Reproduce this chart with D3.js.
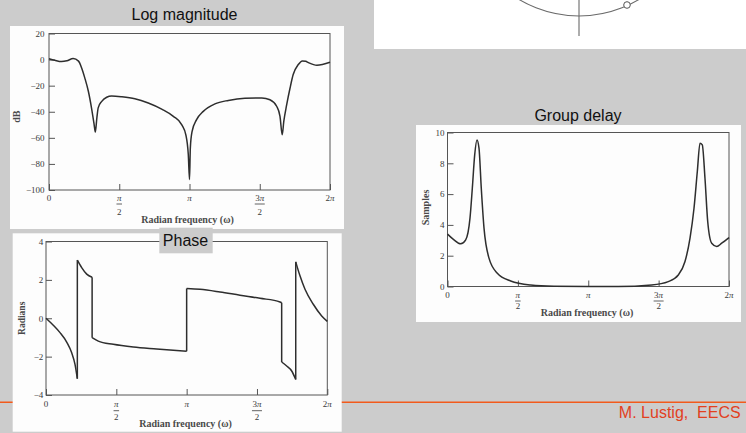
<!DOCTYPE html>
<html>
<head>
<meta charset="utf-8">
<script src="https://cdn.jsdelivr.net/npm/d3@7"></script>
<style>
  body { margin: 0; background: #cccccc; }
  svg { display: block; }
</style>
</head>
<body>
<svg id="slide" width="746" height="433"></svg>
<script>
var PI = Math.PI;

/* values */
var magW  = [0, 0.13, 0.28, 0.40, 0.54, 0.66, 0.73, 0.80, 0.88, 0.95, 1.01, 1.035, 1.07, 1.10, 1.18, 1.29, 1.40, 1.63, 1.92, 2.22, 2.52, 2.78, 2.97, 3.06, 3.115, 3.1416,
             3.16, 3.20, 3.30, 3.45, 3.71, 4.01, 4.38, 4.76, 4.94, 5.09, 5.165, 5.215, 5.25, 5.315, 5.39, 5.46, 5.575, 5.665, 5.74, 5.80, 5.99, 6.2832];
var magDb = [0.7, -0.5, -1.5, -0.9, 0.8, -1.2, -6.4, -14, -24.3, -37, -50, -55.6, -44.8, -37, -32, -28.9, -27.9, -28.5, -30, -33.3, -38, -43.5, -50, -57.7, -73, -92,
             -67.9, -55, -46, -39.7, -34, -31.3, -29.7, -29.5, -30.8, -35.8, -43.5, -57.7, -47.4, -34.6, -21.8, -11.5, -3.8, -1.0, -1.3, -2.3, -4.3, -2.0];

var phaseW   = [0, 0.163, 0.313, 0.462, 0.574, 0.648, 0.70, 0.70, 0.797, 0.909, 1.03, 1.03, 1.168, 1.503, 1.95, 2.472, 3.1416, 3.1416,
                3.44, 3.886, 4.333, 4.78, 5.226, 5.264, 5.264, 5.376, 5.488, 5.578, 5.578, 5.673, 5.785, 5.97, 6.158, 6.2832];
var phaseRad = [0, -0.365, -0.75, -1.24, -1.80, -2.40, -3.15, 3.03, 2.64, 2.30, 2.14, -1.01, -1.19, -1.36, -1.50, -1.60, -1.72, 1.55,
                1.51, 1.37, 1.20, 1.04, 0.85, 0.81, -2.28, -2.49, -2.75, -3.19, 2.94, 2.21, 1.51, 0.73, 0.12, -0.16];

var delayW = [0, 0.145, 0.294, 0.406, 0.502, 0.554, 0.607, 0.658, 0.703, 0.754, 0.815, 0.926, 1.112, 1.41, 1.857, 2.377, 3.12, 3.81,
              4.557, 4.928, 5.151, 5.301, 5.413, 5.502, 5.576, 5.636, 5.687, 5.747, 5.808, 5.897, 6.009, 6.12, 6.2832];
var delaySamples = [3.40, 3.03, 2.77, 3.03, 4.44, 6.38, 8.55, 9.52, 8.98, 6.38, 3.79, 1.84, 0.86, 0.36, 0.10, 0.02, 0.0, 0.0,
                    0.10, 0.32, 0.75, 1.62, 3.14, 5.08, 7.47, 9.31, 9.20, 7.03, 4.22, 2.81, 2.60, 2.81, 3.18];

var xTicks = [0, PI / 2, PI, 3 * PI / 2, 2 * PI];
var xTickTop = ["0", "π", "π", "3π", "2π"];
var xTickBottom = ["", "2", "", "2", ""];
var magTicks = [20, 0, -20, -40, -60, -80, -100];
var phaseTicks = [4, 2, 0, -2, -4];
var delayTicks = [0, 2, 4, 6, 8, 10];

var serif = '"Liberation Serif", "Times New Roman", serif';
var sans = '"Liberation Sans", Arial, Helvetica, sans-serif';
var ink = "#3a3a3a";

var svg = d3.select("#slide");

svg.append("rect").attr("width", 746).attr("height", 433).attr("fill", "#cccccc");

/* orange rule along the bottom */
svg.append("line")
    .attr("x1", 0).attr("x2", 746).attr("y1", 402.3).attr("y2", 402.3)
    .attr("stroke", "#f25a1c").attr("stroke-width", 1.6);

/* bit of the pole-zero plot cut off at the top right */
var pz = svg.append("g");
pz.append("clipPath").attr("id", "pzclip")
    .append("rect").attr("x", 374).attr("y", 0).attr("width", 372).attr("height", 49);
pz.append("rect").attr("x", 374).attr("y", 0).attr("width", 372).attr("height", 49).attr("fill", "#ffffff");
var pzg = pz.append("g").attr("clip-path", "url(#pzclip)");
pzg.append("circle").attr("cx", 579).attr("cy", -100.8).attr("r", 116.8)
    .attr("fill", "none").attr("stroke", "#6a6a6a").attr("stroke-width", 1.1);
pzg.append("line").attr("x1", 579).attr("x2", 579).attr("y1", 0).attr("y2", 36)
    .attr("stroke", "#6a6a6a").attr("stroke-width", 1.1);
pzg.append("circle").attr("cx", 627).attr("cy", 5).attr("r", 3.3)
    .attr("fill", "#ffffff").attr("stroke", "#555").attr("stroke-width", 1);

function minusFmt(d) { return d < 0 ? "\u2212" + Math.abs(d) : String(d); }

function drawPanel(p) {
    var g = svg.append("g");
    g.append("rect").attr("x", p.box[0]).attr("y", p.box[1])
        .attr("width", p.box[2] - p.box[0]).attr("height", p.box[3] - p.box[1])
        .attr("fill", "#fdfdfd");

    var x = d3.scaleLinear().domain([0, 2 * PI]).range(p.xr);
    var y = d3.scaleLinear().domain(p.yd).range(p.yr);

    // y axis with inward ticks
    var ya = g.append("g").attr("transform", "translate(" + p.xr[0] + ",0)")
        .call(d3.axisLeft(y).tickValues(p.yTicks).tickFormat(minusFmt)
            .tickSizeInner(-6).tickSizeOuter(0).tickPadding(p.yPad));
    ya.select(".domain").remove();
    ya.selectAll("line").attr("stroke", "#555");
    ya.selectAll("text").attr("font-family", serif).attr("font-size", 9).attr("fill", ink);

    // x axis, inward ticks, labels drawn by hand for the fractions
    var xa = g.append("g").attr("transform", "translate(0," + p.yr[0] + ")")
        .call(d3.axisBottom(x).tickValues(xTicks).tickFormat("")
            .tickSizeInner(-6).tickSizeOuter(0));
    xa.select(".domain").remove();
    xa.selectAll("line").attr("stroke", "#555");

    var lab = g.append("g").attr("font-family", serif).attr("font-size", 9)
        .attr("fill", ink).attr("text-anchor", "middle");
    xTicks.forEach(function(t, i) {
        var cx = x(t);
        var top = lab.append("text").attr("x", cx).attr("y", p.yr[0] + p.off[0]);
        var s = xTickTop[i];
        if (s.indexOf("π") >= 0) {
            var pre = s.replace("π", "");
            if (pre) top.append("tspan").text(pre);
            top.append("tspan").attr("font-style", "italic").text("π");
        } else {
            top.text(s);
        }
        if (xTickBottom[i]) {
            var w = top.node().getComputedTextLength() + 1;
            lab.append("line").attr("x1", cx - w / 2).attr("x2", cx + w / 2)
                .attr("y1", p.yr[0] + p.off[1]).attr("y2", p.yr[0] + p.off[1])
                .attr("stroke", ink).attr("stroke-width", 0.8);
            lab.append("text").attr("x", cx).attr("y", p.yr[0] + p.off[2]).text(xTickBottom[i]);
        }
    });

    g.append("text").attr("x", p.xTitleX).attr("y", p.yr[0] + p.off[3])
        .attr("text-anchor", "middle").attr("font-family", serif).attr("font-weight", "bold")
        .attr("font-size", 10).attr("fill", "#4a4a4a").text("Radian frequency (ω)");

    g.append("text").attr("transform", "translate(" + p.yTitle[0] + "," + p.yTitle[1] + ") rotate(-90)")
        .attr("text-anchor", "middle").attr("dominant-baseline", "central")
        .attr("font-family", serif).attr("font-weight", "bold").attr("font-size", p.yTitle[2])
        .attr("fill", "#4a4a4a").text(p.yLabel);

    // frame
    g.append("rect").attr("x", p.xr[0]).attr("y", p.yr[1])
        .attr("width", p.xr[1] - p.xr[0]).attr("height", p.yr[0] - p.yr[1])
        .attr("fill", "none").attr("stroke", "#555").attr("stroke-width", 1);

    // curve, split where the phase jumps straight up or down
    var pts = p.w.map(function(w, i) { return [w, p.v[i]]; });
    var segs = [[pts[0]]];
    for (var i = 1; i < pts.length; i++) {
        if (pts[i][0] === pts[i - 1][0]) segs.push([]);
        segs[segs.length - 1].push(pts[i]);
    }
    var line = d3.line().x(function(d) { return x(d[0]); }).y(function(d) { return y(d[1]); })
        .curve(d3.curveMonotoneX);
    segs.forEach(function(s, k) {
        g.append("path").attr("d", line(s))
            .attr("fill", "none").attr("stroke", "#2e2e2e").attr("stroke-width", 1.5)
            .attr("stroke-linejoin", "round");
        if (k > 0) {
            var a = segs[k - 1][segs[k - 1].length - 1], b = s[0];
            g.append("line").attr("x1", x(a[0])).attr("x2", x(b[0]))
                .attr("y1", y(a[1])).attr("y2", y(b[1]))
                .attr("stroke", "#2e2e2e").attr("stroke-width", 1.5);
        }
    });
    return g;
}

drawPanel({
    box: [10, 26, 344, 229], xr: [49, 330], yr: [190, 33.5], yd: [-100, 20],
    yTicks: magTicks, yPad: 4.5, off: [11, 14, 25, 32.7], xTitleX: 187.5,
    yTitle: [16.3, 116.7, 10], yLabel: "dB", w: magW, v: magDb
});
drawPanel({
    box: [12.7, 233.3, 341.7, 431.7], xr: [46, 327.3], yr: [395, 241.5], yd: [-4, 4],
    yTicks: phaseTicks, yPad: 2.7, off: [11.7, 15.7, 25, 32], xTitleX: 185.5,
    yTitle: [21.7, 318.3, 9.5], yLabel: "Radians", w: phaseW, v: phaseRad
});
drawPanel({
    box: [416, 125, 741, 322], xr: [447.5, 729], yr: [286.5, 132.5], yd: [0, 10],
    yTicks: delayTicks, yPad: 3, off: [11.8, 14.5, 22, 29.5], xTitleX: 587,
    yTitle: [425, 207.5, 10], yLabel: "Samples", w: delayW, v: delaySamples
});

/* slide titles */
svg.append("rect").attr("x", 159.3).attr("y", 227.7).attr("width", 53.4).attr("height", 25.6).attr("fill", "#cccccc");
var titles = [["Log magnitude", 184.5, 20], ["Phase", 185.5, 245.7], ["Group delay", 578, 120.5]];
svg.selectAll("text.title").data(titles).enter().append("text")
    .attr("class", "title")
    .attr("x", function(d) { return d[1]; }).attr("y", function(d) { return d[2]; })
    .attr("text-anchor", "middle").attr("font-family", sans).attr("font-size", 16)
    .attr("fill", "#111").text(function(d) { return d[0]; });

svg.append("text").attr("x", 740.7).attr("y", 418.3).attr("text-anchor", "end")
    .attr("font-family", sans).attr("font-size", 16).attr("fill", "#e2401e")
    .style("white-space", "pre").text("M. Lustig,  EECS");
</script>
</body>
</html>
